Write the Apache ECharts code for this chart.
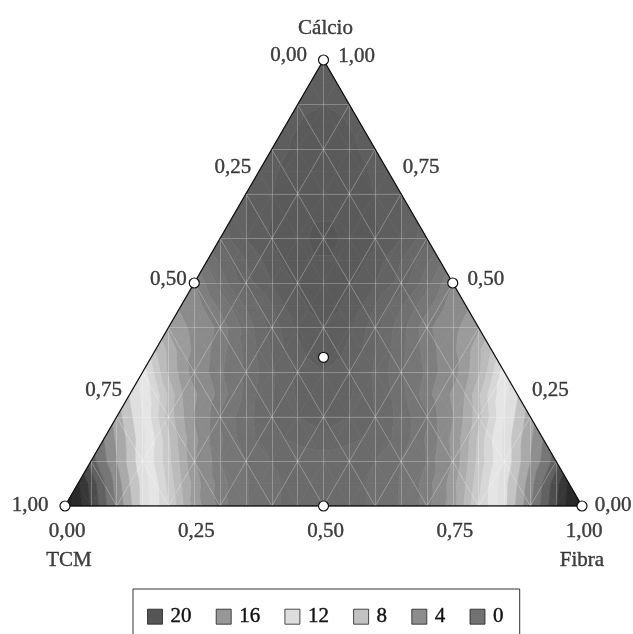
<!DOCTYPE html>
<html lang="pt">
<head>
<meta charset="UTF-8">
<title>Cálcio - TCM - Fibra</title>
<script src="https://cdn.jsdelivr.net/npm/echarts@6/dist/echarts.min.js"></script>
<style>
  html, body { margin: 0; padding: 0; background: #fff; }
  #chart { width: 633px; height: 634px; }
</style>
</head>
<body>
<div id="chart"></div>
<script>
// response on a 0.05 lattice
// row r: Cálcio = r/20 ; entries: Fibra = 0, 0.05, ... up to 1 - Cálcio (TCM is the rest)
const response = [
  [22, 18.9, 15.8, 12.7, 10, 6.5, 4.7, 4.05, 3.6, 3.3, 3.2, 3.3, 3.6, 4.05, 4.7, 6.5, 10, 12.7, 15.8, 18.9, 22],
  [20.2, 17.1, 14.0, 11.3, 8.0, 5.3, 4.3, 3.8, 3.45, 3.25, 3.25, 3.45, 3.8, 4.3, 5.3, 8.0, 11.3, 14.0, 17.1, 20.2],
  [17.5, 15, 12.2, 9.3, 6.1, 4.5, 4.0, 3.5, 3.3, 3.2, 3.3, 3.5, 4.0, 4.5, 6.1, 9.3, 12.2, 15, 17.5],
  [16.0, 13.6, 10.9, 7.5, 5.1, 4.1, 3.4, 3.0, 2.8, 2.8, 3.0, 3.4, 4.1, 5.1, 7.5, 10.9, 13.6, 16.0],
  [14.5, 12, 8.6, 5.9, 4.4, 3.7, 3.0, 2.5, 2.2, 2.5, 3.0, 3.7, 4.4, 5.9, 8.6, 12, 14.5],
  [12.9, 10.5, 7.1, 5.3, 4.3, 3.4, 2.7, 2.2, 2.2, 2.7, 3.4, 4.3, 5.3, 7.1, 10.5, 12.9],
  [11.6, 7.8, 5.5, 4.6, 3.9, 3.1, 2.4, 2.0, 2.4, 3.1, 3.9, 4.6, 5.5, 7.8, 11.6],
  [9, 6.5, 5.1, 4.3, 3.4, 2.5, 1.8, 1.8, 2.5, 3.4, 4.3, 5.1, 6.5, 9],
  [6.8, 5.7, 4.8, 3.8, 2.8, 1.9, 1.5, 1.9, 2.8, 3.8, 4.8, 5.7, 6.8],
  [5.8, 4.8, 3.9, 3.0, 2.0, 1.4, 1.4, 2.0, 3.0, 3.9, 4.8, 5.8],
  [5.0, 3.8, 2.7, 2.0, 1.4, 1.2, 1.4, 2.0, 2.7, 3.8, 5.0],
  [3.9, 2.9, 2.1, 1.4, 1.05, 1.05, 1.4, 2.1, 2.9, 3.9],
  [2.8, 2.0, 1.4, 1.1, 0.85, 1.1, 1.4, 2.0, 2.8],
  [2.3, 1.7, 1.3, 1.05, 1.05, 1.3, 1.7, 2.3],
  [2.0, 1.5, 1.25, 1.15, 1.25, 1.5, 2.0],
  [1.8, 1.4, 1.25, 1.25, 1.4, 1.8],
  [1.7, 1.4, 1.3, 1.4, 1.7],
  [1.6, 1.4, 1.4, 1.6],
  [1.6, 1.5, 1.6],
  [1.6, 1.6],
  [1.6]
];

// mixture design points (proportions)
const designTCM    = [1, 0, 0, 0.5, 0.5, 0, 1 / 3];
const designFibra  = [0, 1, 0, 0.5, 0, 0.5, 1 / 3];
const designCalcio = [0, 0, 1, 0, 0.5, 0.5, 1 / 3];

// axis ticks
const tickValues = [0, 0.25, 0.5, 0.75, 1];
const tickText = ['0,00', '0,25', '0,50', '0,75', '1,00'];

// legend
const legendValues = ['20', '16', '12', '8', '4', '0'];
const legendColors = ['#2b2b2b', '#7d7d7d', '#d5d5d5', '#b3b3b3', '#6f6f6f', '#4f4f4f'];

// grey ramp used for the bands
const rampValues = [0, 4, 8, 12, 16, 20, 24];
const rampGrey = [79, 114, 180, 236, 128, 44, 30];

const FONT = 'Liberation Serif';
const steps = response.length - 1;
const meshDiv = 10;

// (Fibra, Cálcio) -> plot coords; x runs along the base, y is the height
function toXY(f, c) { return [f + c / 2, c]; }

// triangles of the lattice
const cells = [];
for (let r = 0; r < steps; r++) {
  for (let k = 0; k < steps - r; k++) {
    const a = toXY(k / steps, r / steps), b = toXY((k + 1) / steps, r / steps), d = toXY(k / steps, (r + 1) / steps);
    cells.push([a[0], a[1], response[r][k], b[0], b[1], response[r][k + 1], d[0], d[1], response[r + 1][k]]);
    if (k < steps - r - 1) {
      const e = toXY((k + 1) / steps, (r + 1) / steps);
      cells.push([b[0], b[1], response[r][k + 1], d[0], d[1], response[r + 1][k], e[0], e[1], response[r + 1][k + 1]]);
    }
  }
}

// finer bands in the dark middle, unit bands elsewhere
const bandEdges = [-1000];
for (let v = 0; v < 5; v += 0.5) bandEdges.push(v);
for (let v = 5; v <= 23; v++) bandEdges.push(v);
bandEdges.push(1000);

function greyAt(v) {
  if (v <= rampValues[0]) return rampGrey[0];
  for (let i = 1; i < rampValues.length; i++) {
    if (v <= rampValues[i]) {
      const t = (v - rampValues[i - 1]) / (rampValues[i] - rampValues[i - 1]);
      return rampGrey[i - 1] + t * (rampGrey[i] - rampGrey[i - 1]);
    }
  }
  return rampGrey[rampGrey.length - 1];
}
function bandColor(b) {
  let lo = bandEdges[b], hi = bandEdges[b + 1];
  if (lo < -100) lo = hi - 0.5;
  if (hi > 100) hi = lo + 1;
  const g = Math.round(greyAt((lo + hi) / 2));
  return 'rgb(' + g + ',' + g + ',' + g + ')';
}

function clip(poly, level, dir) {
  const out = [];
  for (let i = 0; i < poly.length; i++) {
    const p = poly[i], q = poly[(i + 1) % poly.length];
    const pin = dir * (p.v - level) >= 0, qin = dir * (q.v - level) >= 0;
    if (pin) out.push(p);
    if (pin !== qin) {
      const t = (level - p.v) / (q.v - p.v);
      out.push({ x: p.x + t * (q.x - p.x), y: p.y + t * (q.y - p.y), v: level });
    }
  }
  return out;
}

// mesh lines over the surface
const mesh = [];
for (let r = 1; r < meshDiv; r++) {
  const y = r / meshDiv;
  mesh.push({ coords: [[y / 2, y], [1 - y / 2, y]] });
}
for (let k = 1; k < meshDiv; k++) {
  const a = k / meshDiv;
  mesh.push({ coords: [[a, 0], [a + (1 - a) / 2, 1 - a]] });
  mesh.push({ coords: [[a, 0], [a / 2, a]] });
}
for (let k = 1; k < 2 * meshDiv; k++) {
  const x = k / (2 * meshDiv);
  mesh.push({ coords: [[x, 0], [x, 2 * Math.min(x, 1 - x)]] });
}

const chart = echarts.init(document.getElementById('chart'));

const textBase = { color: '#111', fontFamily: FONT, fontSize: 21, textBorderWidth: 0.4, textBorderColor: '#111' };

chart.setOption({
  animation: false,
  grid: { left: 65, top: 60, width: 517, height: 446 },
  xAxis: { type: 'value', min: 0, max: 1, show: false },
  yAxis: { type: 'value', min: 0, max: 1, show: false },
  legend: {
    left: 133, top: 589,
    padding: [17, 16, 30, 14],
    borderColor: '#333', borderWidth: 1,
    itemWidth: 15, itemHeight: 15, itemGap: 24,
    icon: 'rect',
    selectedMode: false,
    textStyle: Object.assign({ padding: [0, 0, 0, 3] }, textBase),
    data: legendValues.map(function (n, i) {
      return { name: n, itemStyle: { color: legendColors[i], borderColor: '#222', borderWidth: 1 } };
    })
  },
  series: [
    {
      type: 'custom',
      silent: true,
      z: 1,
      data: cells,
      renderItem: function (params, api) {
        const pts = [0, 1, 2].map(function (i) {
          const p = api.coord([api.value(i * 3), api.value(i * 3 + 1)]);
          return { x: p[0], y: p[1], v: api.value(i * 3 + 2) };
        });
        const children = [];
        for (let b = 0; b < bandEdges.length - 1; b++) {
          let poly = clip(pts, bandEdges[b], 1);
          if (poly.length < 3) continue;
          poly = clip(poly, bandEdges[b + 1], -1);
          if (poly.length < 3) continue;
          const col = bandColor(b);
          children.push({
            type: 'polygon',
            shape: { points: poly.map(function (p) { return [p.x, p.y]; }) },
            style: { fill: col, stroke: col, lineWidth: 0.7 }
          });
        }
        return { type: 'group', children: children };
      }
    },
    {
      type: 'lines',
      coordinateSystem: 'cartesian2d',
      silent: true,
      z: 2,
      lineStyle: { color: 'rgba(255,255,255,0.25)', width: 1, opacity: 1 },
      data: mesh
    },
    {
      type: 'line',
      silent: true,
      z: 3,
      symbol: 'none',
      lineStyle: { color: '#111', width: 1.3 },
      data: [[0, 0], [0.5, 1], [1, 0], [0, 0]]
    },
    {
      type: 'scatter',
      silent: true,
      z: 4,
      symbol: 'circle',
      symbolSize: 10,
      itemStyle: { color: '#fff', borderColor: '#111', borderWidth: 1.2, opacity: 1 },
      data: designTCM.map(function (t, i) { return toXY(designFibra[i], designCalcio[i]); })
    },
    {
      // Fibra, along the base
      type: 'scatter', silent: true, z: 5, symbolSize: 0,
      label: Object.assign({ show: true, position: 'inside', formatter: '{b}' }, textBase),
      data: tickValues.map(function (t, i) {
        return { name: tickText[i], value: toXY(t, 0), label: { offset: [2, 25] } };
      })
    },
    {
      // TCM, along the left side
      type: 'scatter', silent: true, z: 5, symbolSize: 0,
      label: Object.assign({ show: true, position: 'inside', formatter: '{b}' }, textBase),
      data: tickValues.map(function (t, i) {
        const end = t === 0 || t === 1;
        return { name: tickText[i], value: toXY(0, 1 - t), label: { offset: end ? [-35, t === 0 ? -5 : -1] : [-26, -4] } };
      })
    },
    {
      // Cálcio, along the right side
      type: 'scatter', silent: true, z: 5, symbolSize: 0,
      label: Object.assign({ show: true, position: 'inside', formatter: '{b}' }, textBase),
      data: tickValues.map(function (t, i) {
        return { name: tickText[i], value: toXY(1 - t, t), label: { offset: t === 0 ? [31, -1] : [33, -4] } };
      })
    },
    {
      type: 'scatter', silent: true, z: 5, symbolSize: 0,
      label: Object.assign({ show: true, position: 'inside', formatter: '{b}' }, textBase),
      data: [
        { name: 'Cálcio', value: toXY(0, 1), label: { offset: [2, -32] } },
        { name: 'TCM', value: toXY(0, 0), label: { offset: [4, 54] } },
        { name: 'Fibra', value: toXY(1, 0), label: { offset: [0, 54] } }
      ]
    }
  ].concat(legendValues.map(function (n, i) {
    return {
      name: n, type: 'scatter', data: [],
      itemStyle: { color: legendColors[i], borderColor: '#222', borderWidth: 1 }
    };
  }))
});

window.addEventListener('resize', function () { chart.resize(); });
</script>
</body>
</html>
